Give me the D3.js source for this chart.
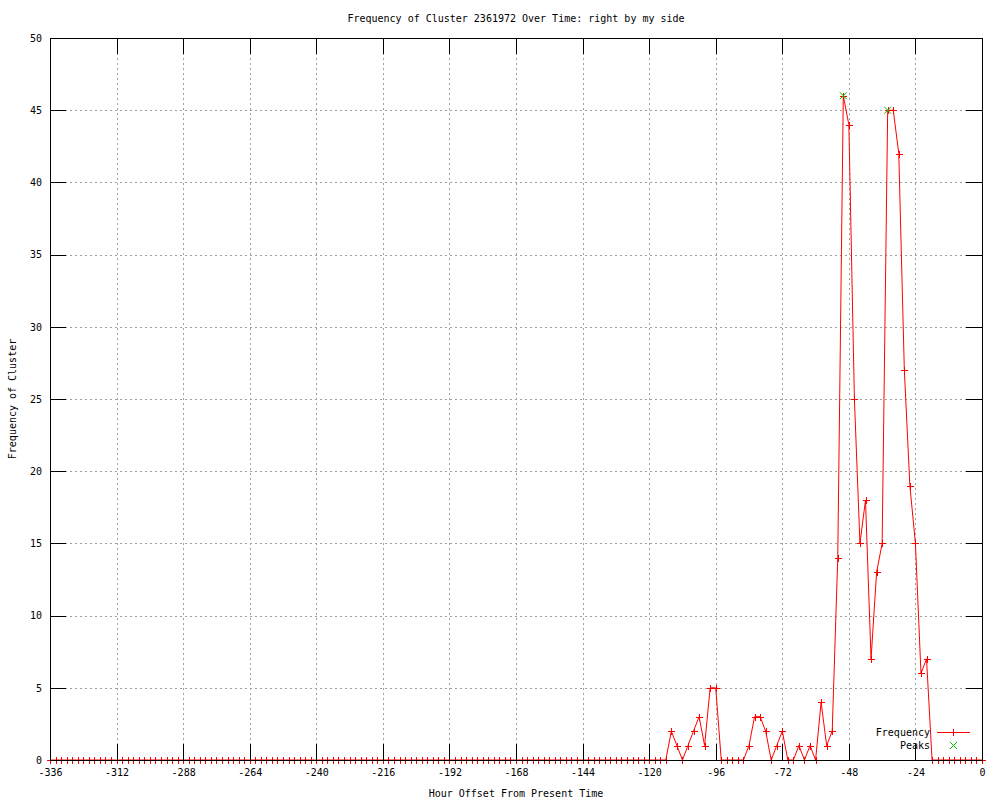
<!DOCTYPE html>
<html>
<head>
<meta charset="utf-8">
<script src="https://cdn.jsdelivr.net/npm/d3@7"></script>
<style>
  body { margin: 0; background: #fff; }
  text { font-family: "DejaVu Sans Mono", "Liberation Mono", monospace; font-size: 10px; fill: #000; }
</style>
</head>
<body>
<div id="chart"></div>
<script>
// hours relative to now, one sample every 2 hours
const hours = [
  -336, -334, -332, -330, -328, -326, -324, -322, -320, -318, -316, -314, -312, -310, -308, -306, -304, -302, -300, -298,
  -296, -294, -292, -290, -288, -286, -284, -282, -280, -278, -276, -274, -272, -270, -268, -266, -264, -262, -260, -258,
  -256, -254, -252, -250, -248, -246, -244, -242, -240, -238, -236, -234, -232, -230, -228, -226, -224, -222, -220, -218,
  -216, -214, -212, -210, -208, -206, -204, -202, -200, -198, -196, -194, -192, -190, -188, -186, -184, -182, -180, -178,
  -176, -174, -172, -170, -168, -166, -164, -162, -160, -158, -156, -154, -152, -150, -148, -146, -144, -142, -140, -138,
  -136, -134, -132, -130, -128, -126, -124, -122, -120, -118, -116, -114, -112, -110, -108, -106, -104, -102, -100, -98,
  -96, -94, -92, -90, -88, -86, -84, -82, -80, -78, -76, -74, -72, -70, -68, -66, -64, -62, -60, -58,
  -56, -54, -52, -50, -48, -46, -44, -42, -40, -38, -36, -34, -32, -30, -28, -26, -24, -22, -20, -18,
  -16, -14, -12, -10, -8, -6, -4, -2, 0
];

const frequency = [
  0, 0, 0, 0, 0, 0, 0, 0, 0, 0, 0, 0, 0, 0, 0, 0, 0, 0, 0, 0,
  0, 0, 0, 0, 0, 0, 0, 0, 0, 0, 0, 0, 0, 0, 0, 0, 0, 0, 0, 0,
  0, 0, 0, 0, 0, 0, 0, 0, 0, 0, 0, 0, 0, 0, 0, 0, 0, 0, 0, 0,
  0, 0, 0, 0, 0, 0, 0, 0, 0, 0, 0, 0, 0, 0, 0, 0, 0, 0, 0, 0,
  0, 0, 0, 0, 0, 0, 0, 0, 0, 0, 0, 0, 0, 0, 0, 0, 0, 0, 0, 0,
  0, 0, 0, 0, 0, 0, 0, 0, 0, 0, 0, 0, 2, 1, 0, 1, 2, 3, 1, 5,
  5, 0, 0, 0, 0, 0, 1, 3, 3, 2, 0, 1, 2, 0, 0, 1, 0, 1, 0, 4,
  1, 2, 14, 46, 44, 25, 15, 18, 7, 13, 15, 45, 45, 42, 27, 19, 15, 6, 7, 0,
  0, 0, 0, 0, 0, 0, 0, 0, 0
];

const peakHours = [-50, -34];
const peakValues = [46, 45];

const xTicks = [-336, -312, -288, -264, -240, -216, -192, -168, -144, -120, -96, -72, -48, -24, 0];
const yTicks = [0, 5, 10, 15, 20, 25, 30, 35, 40, 45, 50];

const width = 1000, height = 800;
const margin = { top: 38, right: 18, bottom: 40, left: 50 };
const plotW = width - margin.left - margin.right;
const plotH = height - margin.top - margin.bottom;
const tickLen = 16;

const svg = d3.select("#chart").append("svg")
  .attr("width", width)
  .attr("height", height);

const x = d3.scaleLinear().domain([-336, 0]).range([margin.left, margin.left + plotW]);
const y = d3.scaleLinear().domain([0, 50]).range([margin.top + plotH, margin.top]);

// grid
const grid = svg.append("g")
  .attr("stroke", "#a0a0a0")
  .attr("stroke-width", 1)
  .attr("stroke-dasharray", "2,3")
  .attr("shape-rendering", "crispEdges");
grid.selectAll(".gx").data(xTicks.slice(1, -1)).enter().append("line")
  .attr("x1", d => Math.round(x(d)) + 0.5).attr("x2", d => Math.round(x(d)) + 0.5)
  .attr("y1", y(50)).attr("y2", y(0));
grid.selectAll(".gy").data(yTicks.slice(1, -1)).enter().append("line")
  .attr("y1", d => Math.round(y(d)) + 0.5).attr("y2", d => Math.round(y(d)) + 0.5)
  .attr("x1", x(-336)).attr("x2", x(0));

// data line
const data = hours.map((h, i) => ({ h: h, v: frequency[i] }));
svg.append("path")
  .datum(data)
  .attr("fill", "none")
  .attr("stroke", "#ff0000")
  .attr("stroke-width", 1)
  .attr("d", d3.line().x(d => x(d.h)).y(d => y(d.v)));

// plus markers
const ms = 3.5;
svg.append("g").selectAll("path").data(data).enter().append("path")
  .attr("stroke", "#ff0000")
  .attr("stroke-width", 1)
  .attr("shape-rendering", "crispEdges")
  .attr("d", d => {
    const cx = Math.round(x(d.h)) + 0.5, cy = Math.round(y(d.v)) + 0.5;
    return `M${cx - ms},${cy}H${cx + ms}M${cx},${cy - ms}V${cy + ms}`;
  });

// peak markers
svg.append("g").selectAll("path").data(peakHours).enter().append("path")
  .attr("stroke", "#00c000")
  .attr("stroke-width", 1)
  .attr("d", (d, i) => {
    const cx = x(d), cy = y(peakValues[i]);
    return `M${cx - ms},${cy - ms}L${cx + ms},${cy + ms}M${cx - ms},${cy + ms}L${cx + ms},${cy - ms}`;
  });

// axes with inward ticks, mirrored
const fmt = d => String(d);
const axisStyle = g => {
  g.select(".domain").remove();
  g.selectAll("line").attr("stroke", "#000").attr("shape-rendering", "crispEdges");
  g.selectAll("text").style("font-family", "DejaVu Sans Mono, monospace").style("font-size", "10px").attr("fill", "#000");
};
svg.append("g")
  .attr("transform", `translate(0,${y(0)})`)
  .call(d3.axisBottom(x).tickValues(xTicks).tickFormat(fmt).tickSizeInner(-tickLen).tickSizeOuter(0).tickPadding(9))
  .call(axisStyle);
svg.append("g")
  .attr("transform", `translate(0,${y(50)})`)
  .call(d3.axisTop(x).tickValues(xTicks).tickFormat("").tickSizeInner(-tickLen).tickSizeOuter(0))
  .call(axisStyle);
svg.append("g")
  .attr("transform", `translate(${x(-336)},0)`)
  .call(d3.axisLeft(y).tickValues(yTicks).tickFormat(fmt).tickSizeInner(-tickLen).tickSizeOuter(0).tickPadding(8))
  .call(axisStyle);
svg.append("g")
  .attr("transform", `translate(${x(0)},0)`)
  .call(d3.axisRight(y).tickValues(yTicks).tickFormat("").tickSizeInner(-tickLen).tickSizeOuter(0))
  .call(axisStyle);

// border
svg.append("rect")
  .attr("x", x(-336) + 0.5).attr("y", y(50) + 0.5)
  .attr("width", x(0) - x(-336)).attr("height", y(0) - y(50))
  .attr("fill", "none").attr("stroke", "#000").attr("stroke-width", 1)
  .attr("shape-rendering", "crispEdges");

// titles
svg.append("text")
  .attr("x", margin.left + plotW / 2).attr("y", 22)
  .attr("text-anchor", "middle")
  .text("Frequency of Cluster 2361972 Over Time: right by my side");
svg.append("text")
  .attr("x", margin.left + plotW / 2).attr("y", 797)
  .attr("text-anchor", "middle")
  .text("Hour Offset From Present Time");
svg.append("text")
  .attr("transform", `translate(16,${margin.top + plotH / 2}) rotate(-90)`)
  .attr("text-anchor", "middle")
  .text("Frequency of Cluster");

// legend
const legend = svg.append("g");
legend.append("text").attr("x", 930).attr("y", 736).attr("text-anchor", "end").text("Frequency");
legend.append("line").attr("x1", 937).attr("x2", 970).attr("y1", 732.5).attr("y2", 732.5)
  .attr("stroke", "#ff0000");
legend.append("path").attr("stroke", "#ff0000").attr("shape-rendering", "crispEdges")
  .attr("d", `M953.5,${732.5 - ms}V${732.5 + ms}`);
legend.append("text").attr("x", 930).attr("y", 749).attr("text-anchor", "end").text("Peaks");
legend.append("path").attr("stroke", "#00c000")
  .attr("d", `M${953.5 - ms},${745.5 - ms}L${953.5 + ms},${745.5 + ms}M${953.5 - ms},${745.5 + ms}L${953.5 + ms},${745.5 - ms}`);
</script>
</body>
</html>
